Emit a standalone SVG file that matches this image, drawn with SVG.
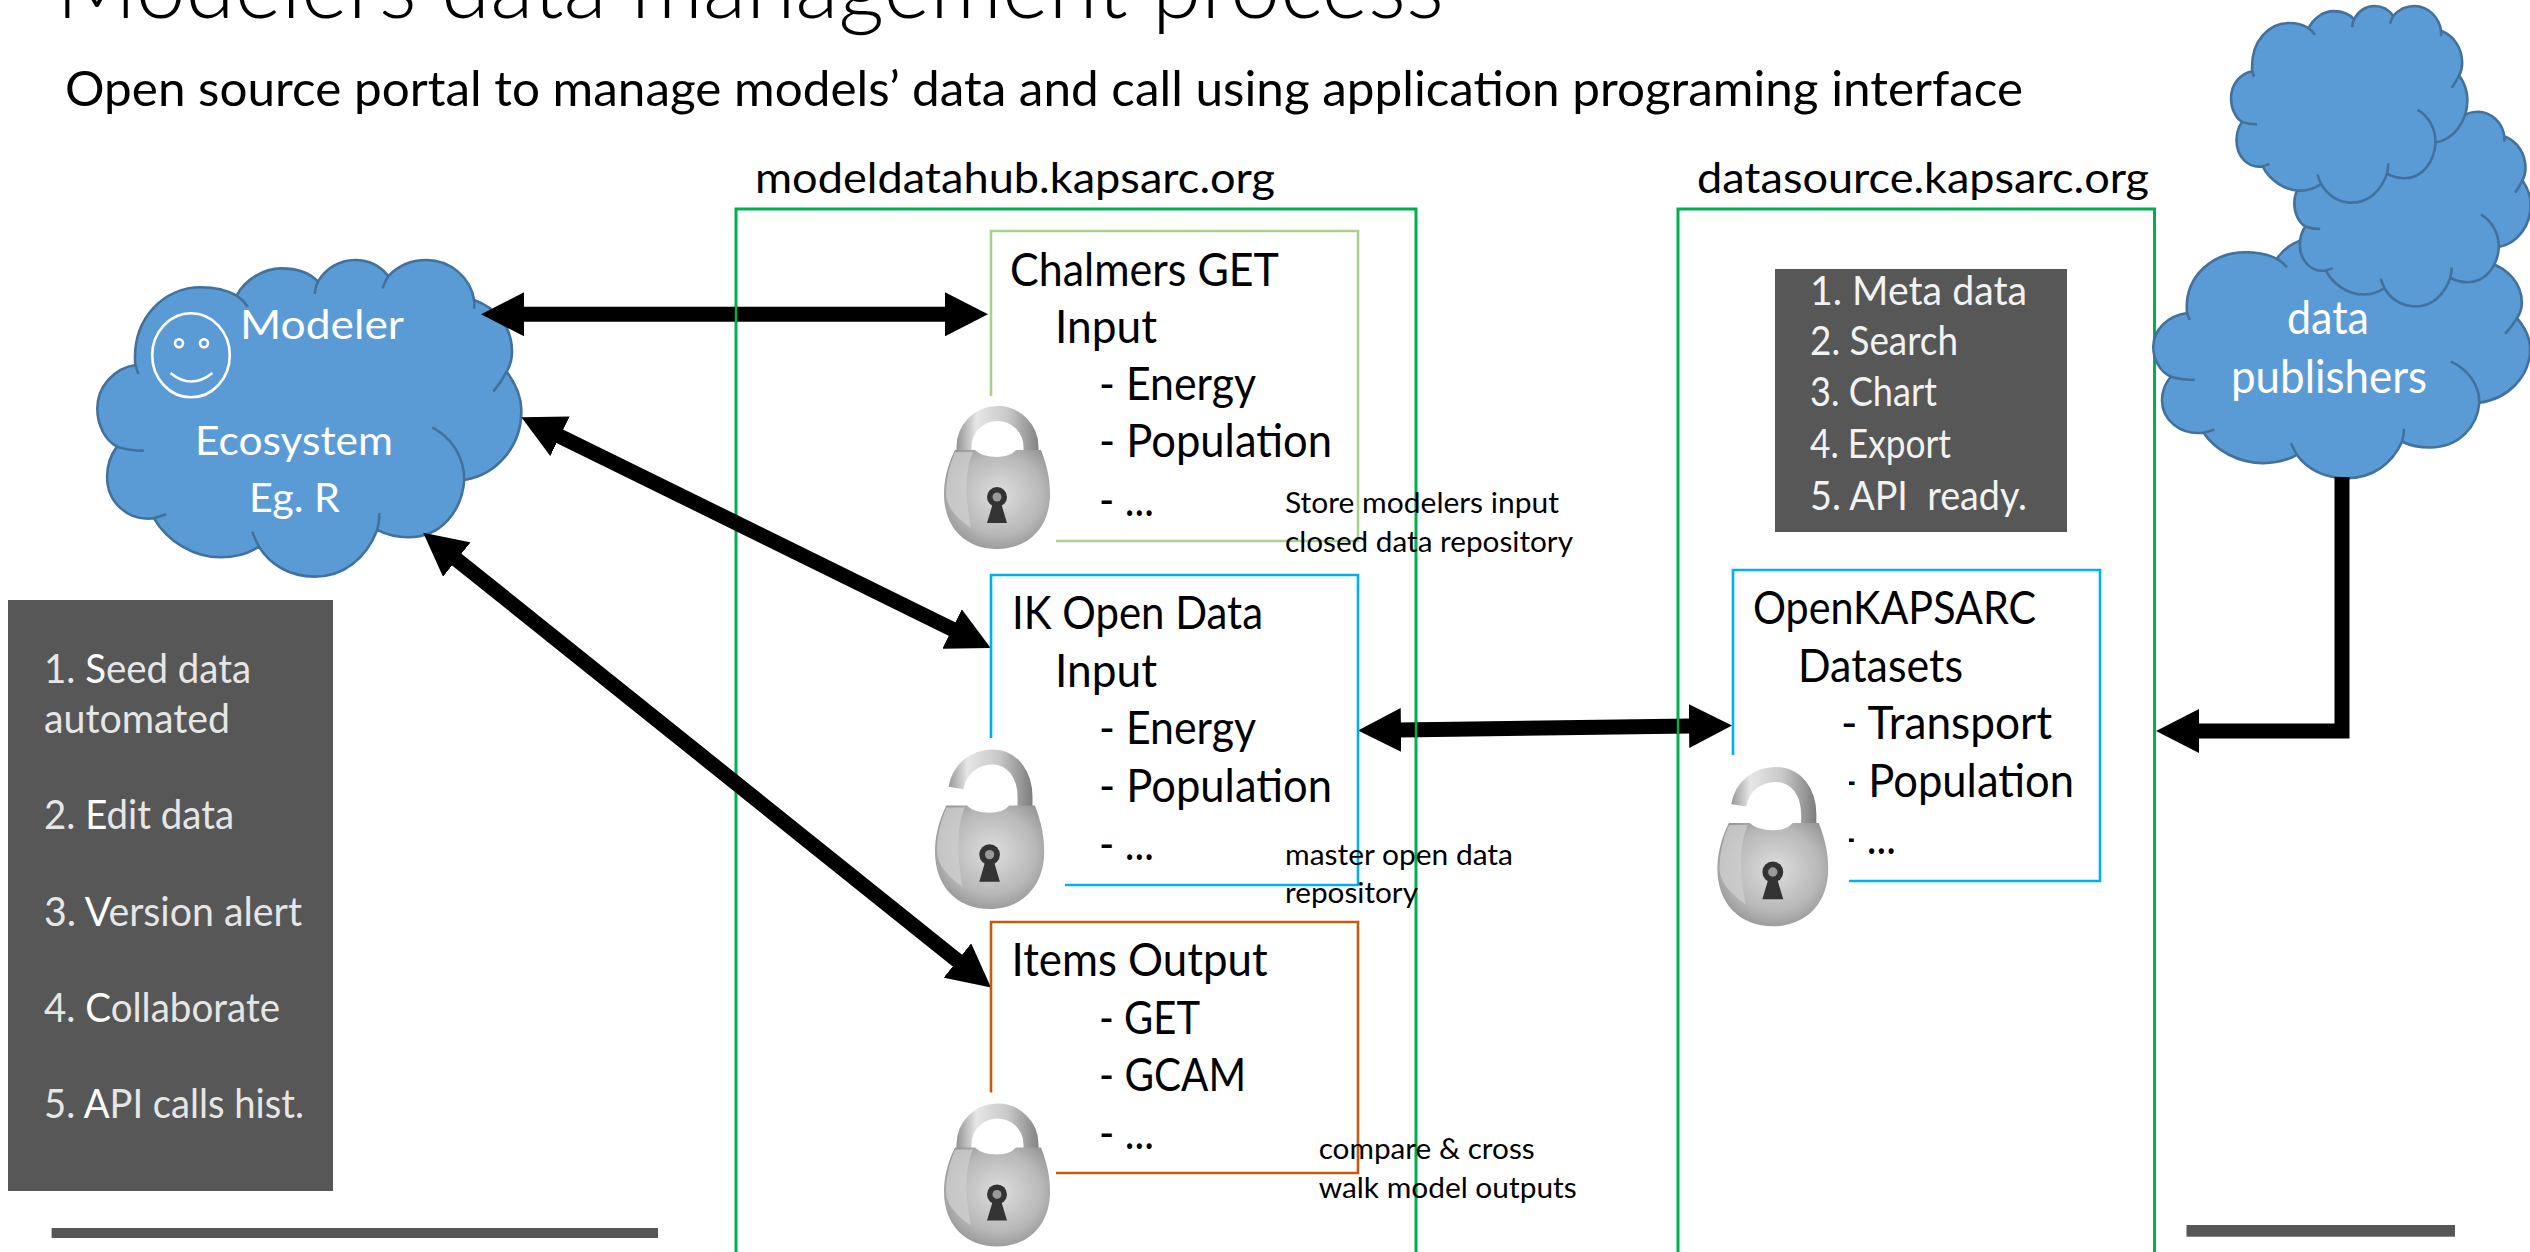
<svg xmlns="http://www.w3.org/2000/svg" width="2530" height="1252" viewBox="0 0 2530 1252">
<style>
text{font-family:"Lato","Carlito","Liberation Sans",sans-serif;fill:#000}
.title{font-size:90px;font-weight:300}
.sub{font-size:48px}
.head{font-size:42px}
.box{font-size:47px}
.small{font-size:28.5px}
.w{fill:#fff;font-size:41px}
.p{fill:#fff;font-size:46px}
.g{fill:#e6e6e6;font-size:40px}
.g tspan{fill:#fff}
.f{fill:#f2f2f2;font-size:40px}
.cl{fill:#5B9BD5;stroke:#41719C;stroke-width:2.6;vector-effect:non-scaling-stroke}
.ct{fill:none;stroke:#41719C;stroke-width:2.6;vector-effect:non-scaling-stroke}
.bx{fill:none;stroke-width:2.6}
.cont{fill:none;stroke:#00B050;stroke-width:3}
.panel{fill:#575757}
.arrow{fill:none;stroke:#000;stroke-width:15;marker-start:url(#ah);marker-end:url(#ah)}
.arrow1{fill:none;stroke:#000;stroke-width:15;marker-end:url(#ah)}
.sm{fill:none;stroke:#fff;stroke-width:2.6}
</style>
<defs>
<marker id="ah" viewBox="0 0 44 44" markerUnits="userSpaceOnUse" markerWidth="44" markerHeight="44" refX="2" refY="22" orient="auto-start-reverse"><path d="M0 0L43 22L0 44Z" fill="#000"/></marker>
<radialGradient id="bodyG" cx="0.52" cy="0.45" r="0.62"><stop offset="0" stop-color="#dedede"/><stop offset="0.65" stop-color="#b8b8b8"/><stop offset="1" stop-color="#909090"/></radialGradient>
<linearGradient id="shG" gradientUnits="userSpaceOnUse" x1="10" y1="0" x2="100" y2="0"><stop offset="0" stop-color="#8a8a8a"/><stop offset="0.25" stop-color="#e6e6e6"/><stop offset="0.6" stop-color="#c8c8c8"/><stop offset="1" stop-color="#777"/></linearGradient>
<g id="lockBody">
<path d="M11 44L31 44Q38 51 53 51Q66 51 72 44L97 44C104 62 106 75 106 88C106 122 84 143 53 143C22 143 0 122 0 88C0 75 3 60 11 44Z" fill="url(#bodyG)"/>
<path d="M11 46L29 46C22 62 20 85 27 122C12 112 2 100 2 88C2 75 5 60 11 46Z" fill="#cfcfcf" opacity="0.75"/>
<circle cx="53" cy="91" r="10" fill="#333"/><circle cx="53" cy="91" r="4.5" fill="#9a9a9a"/>
<path d="M49 97L57 97L63 117L43 117Z" fill="#333"/>
</g>
<g id="lockClosed">
<path d="M20 48V41A33.5 33.5 0 0 1 87 41V48" fill="none" stroke="url(#shG)" stroke-width="15"/>
<use href="#lockBody"/>
</g>
<g id="lockOpen">
<path d="M21 37C24 18 40 6 57 6C78 6 90 24 90 46V60" fill="none" stroke="url(#shG)" stroke-width="15"/>
<use href="#lockBody" transform="translate(0,8.5) scale(1.03,1.045)"/>
</g>
<g id="cloud">
<path class="cl" d="M303 495C295 350 370 262 450 262C480 262 510 272 530 287C548 240 590 205 630 205C665 205 695 220 712 245C730 205 760 180 795 180C825 180 852 198 870 228C890 200 920 180 955 180C1010 180 1055 235 1062 300C1115 325 1147 385 1147 455C1147 478 1143 497 1135 515C1157 555 1168 595 1168 632C1168 740 1112 825 1040 840C1035 930 990 1012 915 1012C890 1012 865 1004 845 990C820 1075 770 1130 705 1130C650 1130 605 1095 580 1040C555 1062 525 1072 495 1072C435 1072 375 1025 345 955C285 965 240 905 240 830C240 795 248 765 262 740C235 720 218 675 218 625C218 560 255 505 303 495Z"/>
<path class="ct" d="M303 495L310 522M530 287Q545 300 555 320M712 245Q706 262 705 282M870 228Q862 245 857 265M1062 300Q1063 312 1062 326M1135 515Q1122 548 1105 575M1040 840C1040 770 1010 710 968 682M850 940Q850 965 845 990M580 1040Q572 1020 565 995M345 955Q358 950 372 943M262 740Q290 752 322 752"/>
</g>
</defs>
<rect width="2530" height="1252" fill="#fff"/>

<g id="title">
<text class="title" x="56" y="18" textLength="1388" lengthAdjust="spacingAndGlyphs">Modelers data management process</text>
<text class="sub" x="65" y="106" textLength="1958" lengthAdjust="spacingAndGlyphs">Open source portal to manage models’ data and call using application programing interface</text>
</g>

<g id="modeldatahub">
<path class="cont" d="M736 1252V209H1416V1252"/>
<text class="head" x="755" y="193" textLength="520" lengthAdjust="spacingAndGlyphs">modeldatahub.kapsarc.org</text>
</g>
<g id="datasource">
<path class="cont" d="M1678 1252V209H2154.5V1252"/>
<text class="head" x="1697" y="193" textLength="452" lengthAdjust="spacingAndGlyphs">datasource.kapsarc.org</text>
</g>

<g id="modeler">
<use href="#cloud" transform="matrix(.4464 0 0 .3333 0 200)"/>
<ellipse class="sm" cx="191" cy="355.3" rx="38.8" ry="42"/>
<circle class="sm" cx="179" cy="343.3" r="4"/><circle class="sm" cx="204" cy="343.3" r="4"/>
<path class="sm" d="M170.5 373Q191 390 212.5 373"/>
<text class="w" x="240" y="339" textLength="164" lengthAdjust="spacingAndGlyphs">Modeler</text>
<text class="w" x="195" y="455" textLength="198" lengthAdjust="spacingAndGlyphs">Ecosystem</text>
<text class="w" x="249" y="512" textLength="91" lengthAdjust="spacingAndGlyphs">Eg. R</text>
</g>

<g id="publishers">
<use href="#cloud" transform="matrix(.3967 0 0 .2603 2066.8 184.1)"/>
<use href="#cloud" transform="matrix(.2488 0 0 .205 2240.1 74.8)"/>
<use href="#cloud" transform="matrix(.2488 0 0 .207 2176.8 -31.3)"/>
<text class="p" x="2287" y="334" textLength="82" lengthAdjust="spacingAndGlyphs">data</text>
<text class="p" x="2231" y="393" textLength="196" lengthAdjust="spacingAndGlyphs">publishers</text>
</g>

<g id="connectors">
<path class="arrow" d="M522 314.3H947"/>
<path class="arrow" d="M558.2 435.4L953.9 629.9"/>
<path class="arrow" d="M455.2 558.3L959 961.8"/>
<path class="arrow" d="M1399 730L1691 726"/>
<path class="arrow1" d="M2342 477V731H2197"/>
<path d="M736 306V322M1416 720V738M1678 718V734M2154.5 722V740" stroke="#00B050" stroke-width="2.4" fill="none"/>
</g>

<g id="steps">
<rect class="panel" x="8" y="600" width="325" height="591"/>
<text class="g" x="44" y="683" textLength="207" lengthAdjust="spacingAndGlyphs">1. <tspan>S</tspan>eed data</text>
<text class="g" x="44" y="733" textLength="186" lengthAdjust="spacingAndGlyphs">automated</text>
<text class="g" x="44" y="829" textLength="190" lengthAdjust="spacingAndGlyphs">2. <tspan>E</tspan>dit data</text>
<text class="g" x="44" y="926" textLength="258" lengthAdjust="spacingAndGlyphs">3. <tspan>V</tspan>ersion alert</text>
<text class="g" x="44" y="1022" textLength="236" lengthAdjust="spacingAndGlyphs">4. <tspan>C</tspan>ollaborate</text>
<text class="g" x="44" y="1118" textLength="260" lengthAdjust="spacingAndGlyphs">5. <tspan>A</tspan>PI calls hist.</text>
</g>

<g id="features">
<rect class="panel" x="1775" y="269" width="292" height="263"/>
<text class="f" x="1810" y="305" textLength="217" lengthAdjust="spacingAndGlyphs">1. Meta data</text>
<text class="f" x="1810" y="355" textLength="148" lengthAdjust="spacingAndGlyphs">2. Search</text>
<text class="f" x="1810" y="406" textLength="127" lengthAdjust="spacingAndGlyphs">3. Chart</text>
<text class="f" x="1810" y="458" textLength="141" lengthAdjust="spacingAndGlyphs">4. Export</text>
<text class="f" x="1810" y="510" textLength="217" lengthAdjust="spacingAndGlyphs" xml:space="preserve">5. API  ready.</text>
</g>

<g id="chalmers">
<path class="bx" stroke="#A9D18E" d="M991 396V231H1358V541H1056"/>
<text class="box" x="1010" y="285.6" textLength="269" lengthAdjust="spacingAndGlyphs">Chalmers GET</text>
<text class="box" x="1055" y="343" textLength="102" lengthAdjust="spacingAndGlyphs">Input</text>
<text class="box" x="1099" y="400" textLength="157" lengthAdjust="spacingAndGlyphs">- Energy</text>
<text class="box" x="1099" y="457" textLength="233" lengthAdjust="spacingAndGlyphs">- Population</text>
<text class="box" x="1099" y="515.7" textLength="55" lengthAdjust="spacingAndGlyphs">- ...</text>
<use href="#lockClosed" transform="translate(944,406)"/>
</g>

<g id="ik-open-data">
<path class="bx" stroke="#00B0F0" d="M991 738V575H1358V885H1065"/>
<text class="box" x="1012" y="629" textLength="251" lengthAdjust="spacingAndGlyphs">IK Open Data</text>
<text class="box" x="1055" y="687" textLength="102" lengthAdjust="spacingAndGlyphs">Input</text>
<text class="box" x="1099" y="744" textLength="157" lengthAdjust="spacingAndGlyphs">- Energy</text>
<text class="box" x="1099" y="802" textLength="233" lengthAdjust="spacingAndGlyphs">- Population</text>
<text class="box" x="1099" y="860" textLength="55" lengthAdjust="spacingAndGlyphs">- ...</text>
<use href="#lockOpen" transform="translate(935,751)"/>
</g>

<g id="items-output">
<path class="bx" stroke="#C55A11" d="M991 1092.6V922H1358V1173H1056"/>
<text class="box" x="1011.6" y="976" textLength="256" lengthAdjust="spacingAndGlyphs">Items Output</text>
<text class="box" x="1099" y="1033.5" textLength="101" lengthAdjust="spacingAndGlyphs">- GET</text>
<text class="box" x="1099" y="1090.5" textLength="147" lengthAdjust="spacingAndGlyphs">- GCAM</text>
<text class="box" x="1099" y="1149" textLength="55" lengthAdjust="spacingAndGlyphs">- ...</text>
<use href="#lockClosed" transform="translate(944,1103.4)"/>
</g>

<g id="openkapsarc">
<path class="bx" stroke="#00B0F0" d="M1733 755V570H2100V881H1849"/>
<text class="box" x="1753" y="624" textLength="283" lengthAdjust="spacingAndGlyphs">OpenKAPSARC</text>
<text class="box" x="1798" y="682" textLength="165" lengthAdjust="spacingAndGlyphs">Datasets</text>
<text class="box" x="1841" y="739" textLength="211" lengthAdjust="spacingAndGlyphs">- Transport</text>
<text class="box" x="1841" y="797" textLength="233" lengthAdjust="spacingAndGlyphs">- Population</text>
<text class="box" x="1841" y="854" textLength="55" lengthAdjust="spacingAndGlyphs">- ...</text>
<rect x="1707" y="755" width="142" height="180" fill="#fff"/>
<use href="#lockOpen" transform="translate(1717.4,768.4) scale(1.015,1)"/>
</g>

<g id="notes">
<text class="small" x="1285" y="512.7" textLength="274" lengthAdjust="spacingAndGlyphs">Store modelers input</text>
<text class="small" x="1285" y="552" textLength="288" lengthAdjust="spacingAndGlyphs">closed data repository</text>
<text class="small" x="1285" y="865" textLength="228" lengthAdjust="spacingAndGlyphs">master open data</text>
<text class="small" x="1285" y="902.6" textLength="133" lengthAdjust="spacingAndGlyphs">repository</text>
<text class="small" x="1318.7" y="1159.4" textLength="216" lengthAdjust="spacingAndGlyphs">compare &amp; cross</text>
<text class="small" x="1318.7" y="1197.8" textLength="258" lengthAdjust="spacingAndGlyphs">walk model outputs</text>
</g>

<g id="rules">
<rect class="panel" x="51.6" y="1228" width="606.4" height="10"/>
<rect class="panel" x="2186.5" y="1225" width="268.5" height="11.7"/>
</g>
</svg>
